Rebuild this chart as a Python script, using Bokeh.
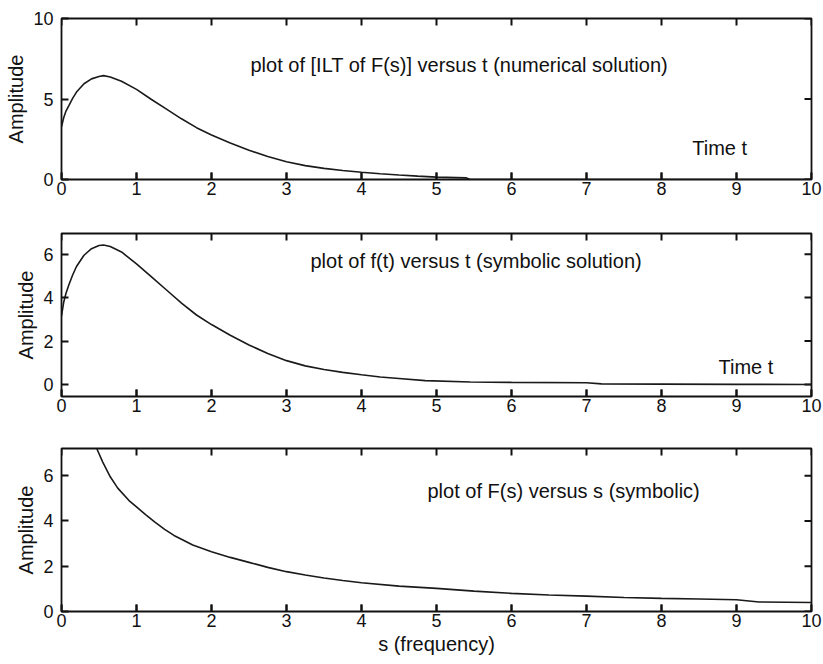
import math
from bokeh.plotting import figure
from bokeh.layouts import column
from bokeh.models import FixedTicker, Range1d
from bokeh.core.properties import value
from bokeh.embed import file_html
from bokeh.resources import INLINE

# ---------------- data ----------------
x_ticks = [0, 1, 2, 3, 4, 5, 6, 7, 8, 9, 10]

# panel 1: numerical inverse Laplace transform
t_num = [0.0, 0.03, 0.06, 0.1, 0.15, 0.2, 0.3, 0.4, 0.5, 0.56, 0.65, 0.8, 1.0, 1.2, 1.4,
         1.6, 1.8, 2.0, 2.25, 2.5, 2.75, 3.0, 3.25, 3.5, 3.75, 4.0, 4.25, 4.5, 4.75, 5.0, 5.4,
         5.45, 6.0, 7.0, 8.0, 9.0, 10.0]
f_num = [3.27, 3.85, 4.25, 4.6, 5.05, 5.43, 5.95, 6.25, 6.4, 6.45, 6.37, 6.1, 5.6, 4.97, 4.37,
         3.77, 3.22, 2.76, 2.27, 1.82, 1.43, 1.1, 0.86, 0.69, 0.56, 0.45, 0.36, 0.28, 0.21, 0.15, 0.1,
         0.0, 0.0, 0.0, 0.0, 0.0, 0.0]
y1_ticks = [0, 5, 10]

# panel 2: symbolic f(t)
t_sym = [0.0, 0.03, 0.06, 0.1, 0.15, 0.2, 0.3, 0.4, 0.5, 0.56, 0.65, 0.8, 1.0, 1.2, 1.4,
         1.6, 1.8, 2.0, 2.25, 2.5, 2.75, 3.0, 3.25, 3.5, 3.75, 4.0, 4.25, 4.5, 4.85, 5.45,
         6.0, 7.0, 7.2, 8.0, 9.0, 10.0]
f_sym = [3.15, 3.8, 4.2, 4.6, 5.05, 5.43, 5.95, 6.25, 6.4, 6.42, 6.35, 6.1, 5.55, 4.95, 4.35,
         3.75, 3.2, 2.76, 2.27, 1.82, 1.43, 1.1, 0.86, 0.69, 0.56, 0.45, 0.35, 0.28, 0.18, 0.12,
         0.1, 0.08, 0.03, 0.02, 0.01, 0.0]
y2_ticks = [0, 2, 4, 6]

# panel 3: symbolic F(s)
s_vals = [0.47, 0.55, 0.65, 0.75, 0.9, 1.0, 1.125, 1.25, 1.375, 1.5, 1.75, 2.0, 2.25, 2.5, 2.75,
          3.0, 3.25, 3.5, 3.75, 4.0, 4.5, 5.0, 5.5, 6.0, 6.5, 7.0, 7.5, 8.0, 8.5, 9.0, 9.3, 10.0]
F_vals = [7.2, 6.6, 5.95, 5.45, 4.9, 4.62, 4.27, 3.94, 3.63, 3.36, 2.94, 2.64, 2.39, 2.17, 1.95,
          1.76, 1.61, 1.48, 1.37, 1.27, 1.12, 1.02, 0.9, 0.8, 0.73, 0.68, 0.62, 0.58, 0.55, 0.52, 0.42, 0.4]
y3_ticks = [0, 2, 4, 6]

FONT = "Liberation Sans"
INK = "#111111"
LINE_COLOR = "#1a1a1a"
FRAME_W = 750
TICK_PX = 7
TICK_W = 2


def make_fig(height, top, bottom, y_start, y_end, y_ticks, xlabel=None):
    p = figure(width=61 + FRAME_W + 12, height=height,
               x_range=Range1d(0, 10), y_range=Range1d(y_start, y_end),
               output_backend="svg", toolbar_location=None,
               min_border_left=61, min_border_right=12,
               min_border_top=top, min_border_bottom=bottom)
    p.grid.visible = False
    p.outline_line_color = INK
    p.outline_line_width = 1.8

    p.xaxis.ticker = FixedTicker(ticks=x_ticks)
    p.yaxis.ticker = FixedTicker(ticks=y_ticks)

    for ax in list(p.xaxis) + list(p.yaxis):
        ax.axis_line_color = None
        ax.major_tick_in = TICK_PX
        ax.major_tick_out = 0
        ax.major_tick_line_color = INK
        ax.major_tick_line_width = TICK_W
        ax.minor_tick_line_color = None
        ax.major_label_text_font = FONT
        ax.major_label_text_font_size = "18px"
        ax.major_label_text_color = INK
        ax.axis_label_text_font = FONT
        ax.axis_label_text_font_size = "20px"
        ax.axis_label_text_font_style = "normal"
        ax.axis_label_text_color = INK

    p.xaxis.major_label_standoff = 2
    p.xaxis.axis_label_standoff = 3
    p.yaxis.major_label_standoff = 8
    p.yaxis.axis_label_standoff = 3
    p.yaxis.axis_label = "Amplitude"
    if xlabel:
        p.xaxis.axis_label = xlabel

    # tick marks on the bottom / top edges drawn as small filled bars,
    # and mirrored ticks on the right edge
    frame_h = height - top - bottom
    dy = (y_end - y_start) * TICK_PX / frame_h
    dx = 10.0 * TICK_PX / FRAME_W
    hw = 10.0 * (TICK_W / 2) / FRAME_W
    n = len(x_ticks)
    lefts = [x - hw for x in x_ticks]
    rights = [x + hw for x in x_ticks]
    p.quad(left=lefts, right=rights, bottom=[y_end - dy] * n, top=[y_end] * n,
           fill_color=INK, line_color=None)
    p.quad(left=lefts, right=rights, bottom=[y_start] * n, top=[y_start + dy] * n,
           fill_color=INK, line_color=None)
    p.segment(x0=[10] * len(y_ticks), y0=y_ticks, x1=[10 - dx] * len(y_ticks),
              y1=y_ticks, line_color=INK, line_width=TICK_W)
    return p


def add_text(p, x, y, txt):
    p.text(x=[x], y=[y], text=[txt], text_font=value(FONT), text_font_size="20px",
           text_color=INK, text_align="left", text_baseline="middle")


# panel 1
p1 = make_fig(200, 18, 21, 0, 10, y1_ticks)
p1.line(t_num, f_num, line_color=LINE_COLOR, line_width=1.6)
add_text(p1, 2.52, 7.1, "plot of [ILT of F(s)] versus t (numerical solution)")
add_text(p1, 8.41, 1.97, "Time t")

# panel 2
p2 = make_fig(220, 33, 24, -0.55, 6.95, y2_ticks)
p2.line(t_sym, f_sym, line_color=LINE_COLOR, line_width=1.6)
add_text(p2, 3.32, 5.7, "plot of f(t) versus t (symbolic solution)")
add_text(p2, 8.76, 0.82, "Time t")

# panel 3
p3 = make_fig(240, 28, 49, 0, 7.2, y3_ticks, xlabel="s (frequency)")
p3.line(s_vals, F_vals, line_color=LINE_COLOR, line_width=1.6)
add_text(p3, 4.88, 5.31, "plot of F(s) versus s (symbolic)")

layout = column(p1, p2, p3, spacing=0)

open("out.html", "w").write(file_html(layout, INLINE))
